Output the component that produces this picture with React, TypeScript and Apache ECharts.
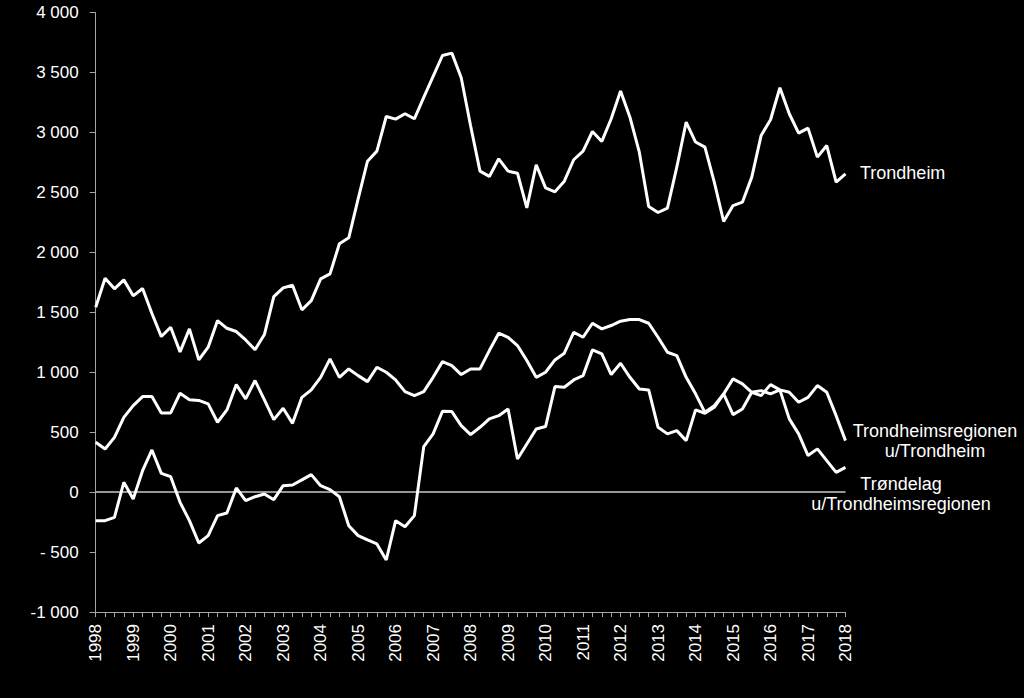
import React, { useEffect, useRef } from "react";
import * as echarts from "echarts";

const years = [1998, 1999, 2000, 2001, 2002, 2003, 2004, 2005, 2006, 2007, 2008, 2009, 2010, 2011, 2012, 2013, 2014, 2015, 2016, 2017, 2018];

const trondheim = [
  1542, 1785, 1696, 1771, 1638, 1699, 1490, 1298, 1376, 1170, 1362, 1103, 1209, 1431, 1367, 1340,
  1270, 1189, 1315, 1632, 1704, 1726, 1521, 1598, 1779, 1821, 2072, 2122, 2447, 2761, 2845, 3134,
  3112, 3157, 3115, 3293, 3468, 3643, 3663, 3457, 3057, 2678, 2634, 2781, 2678, 2661, 2372, 2731,
  2539, 2506, 2594, 2773, 2845, 3009, 2926, 3115, 3346, 3128, 2836, 2383, 2333, 2369, 2711, 3087,
  2921, 2878, 2586, 2258, 2391, 2419, 2628, 2976, 3107, 3374, 3157, 2995, 3037, 2795, 2892, 2586,
  2656,
];

const regionen = [
  416, 360, 457, 624, 722, 797, 797, 661, 661, 825, 770, 765, 736, 583, 686, 897,
  778, 931, 770, 605, 700, 574, 791, 853, 958, 1112, 958, 1028, 972, 922, 1042, 1000,
  936, 839, 805, 839, 958, 1089, 1056, 981, 1028, 1028, 1181, 1326, 1292, 1223, 1098, 958,
  1000, 1103, 1159, 1334, 1292, 1409, 1362, 1390, 1426, 1440, 1440, 1409, 1292, 1167, 1139, 958,
  820, 666, 722, 820, 945, 903, 833, 805, 897, 853, 833, 750, 791, 889, 833, 638,
  430,
];

const trondelag = [
  -238, -238, -210, 82, -57, 179, 352, 157, 129, -85, -238, -424, -363, -196, -174, 35,
  -71, -38, -15, -63, 54, 60, 102, 146, 54, 21, -38, -280, -363, -399, -432, -566,
  -238, -288, -196, 380, 486, 675, 672, 555, 480, 541, 611, 638, 694, 277, 402, 527,
  547, 881, 875, 936, 972, 1187, 1153, 981, 1075, 958, 861, 853, 541, 486, 513, 430,
  686, 658, 708, 820, 647, 694, 833, 847, 820, 853, 611, 486, 305, 361, 263, 165,
  207,
];

const seriesNames = ["Trondheim", "Trondheimsregionen u/Trondheim", "Trøndelag u/Trondheimsregionen"];

function buildCategories(): string[] {
  const out: string[] = [];
  years.forEach((y, idx) => {
    const last = idx === years.length - 1;
    for (let q = 1; q <= (last ? 1 : 4); q++) out.push(`${y}K${q}`);
  });
  return out;
}

function fmtY(v: number): string {
  const a = Math.abs(v);
  const s = a >= 1000 ? `${Math.floor(a / 1000)} ${String(a % 1000).padStart(3, "0")}` : String(a);
  if (v < 0) return a < 1000 ? `- ${s}` : `-${s}`;
  return s;
}

const FONT = "'Liberation Sans', Arial, sans-serif";

export default function App() {
  const ref = useRef<HTMLDivElement>(null);
  useEffect(() => {
    if (!ref.current) return;
    const chart = echarts.init(ref.current, null, { renderer: "svg" });
    const categories = buildCategories();
    const axisColor = "#a6a6a6";
    const lineSeries = (name: string, data: number[], extra: any = {}) => ({
      name,
      type: "line",
      data,
      symbol: "none",
      lineStyle: { color: "#ffffff", width: 3 },
      z: 3,
      ...extra,
    });
    chart.setOption({
      animation: false,
      backgroundColor: "#000000",
      grid: { left: 95.7, right: 178.5, top: 12.7, bottom: 86, containLabel: false },
      xAxis: {
        type: "category",
        data: categories,
        boundaryGap: false,
        axisLine: { onZero: false, lineStyle: { color: axisColor, width: 1 } },
        axisTick: { interval: 0, length: 5, lineStyle: { color: axisColor } },
        axisLabel: {
          interval: 3,
          rotate: 90,
          color: "#ffffff",
          fontSize: 17,
          fontFamily: FONT,
          margin: 12,
          formatter: (v: string) => v.slice(0, 4),
        },
        splitLine: { show: false },
      },
      yAxis: {
        type: "value",
        min: -1000,
        max: 4000,
        interval: 500,
        axisLine: { show: true, lineStyle: { color: axisColor, width: 1 } },
        axisTick: { show: true, length: 6, lineStyle: { color: axisColor } },
        splitLine: { show: false },
        axisLabel: { color: "#ffffff", fontSize: 17, fontFamily: FONT, margin: 17, formatter: fmtY },
      },
      series: [
        lineSeries(seriesNames[0], trondheim),
        lineSeries(seriesNames[1], regionen),
        lineSeries(seriesNames[2], trondelag, {
          markLine: {
            silent: true,
            symbol: ["none", "none"],
            label: { show: false },
            lineStyle: { color: "#c8c8c8", width: 1.5, type: "solid" },
            data: [{ yAxis: 0 }],
            z: 1,
          },
        }),
      ],
      graphic: [
        {
          type: "text",
          left: 860,
          top: 164,
          style: { text: "Trondheim", fill: "#ffffff", font: `18px ${FONT}` },
        },
        {
          type: "text",
          x: 935,
          y: 421,
          style: {
            text: "Trondheimsregionen\nu/Trondheim",
            fill: "#ffffff",
            font: `18px ${FONT}`,
            align: "center",
            lineHeight: 20,
          },
        },
        {
          type: "text",
          x: 901,
          y: 474,
          style: {
            text: "Trøndelag\nu/Trondheimsregionen",
            fill: "#ffffff",
            font: `18px ${FONT}`,
            align: "center",
            lineHeight: 20,
          },
        },
      ],
    });
    return () => chart.dispose();
  }, []);
  return (
    <div
      ref={ref}
      style={{ position: "fixed", left: 0, top: 0, width: 1024, height: 698, background: "#000" }}
    />
  );
}
